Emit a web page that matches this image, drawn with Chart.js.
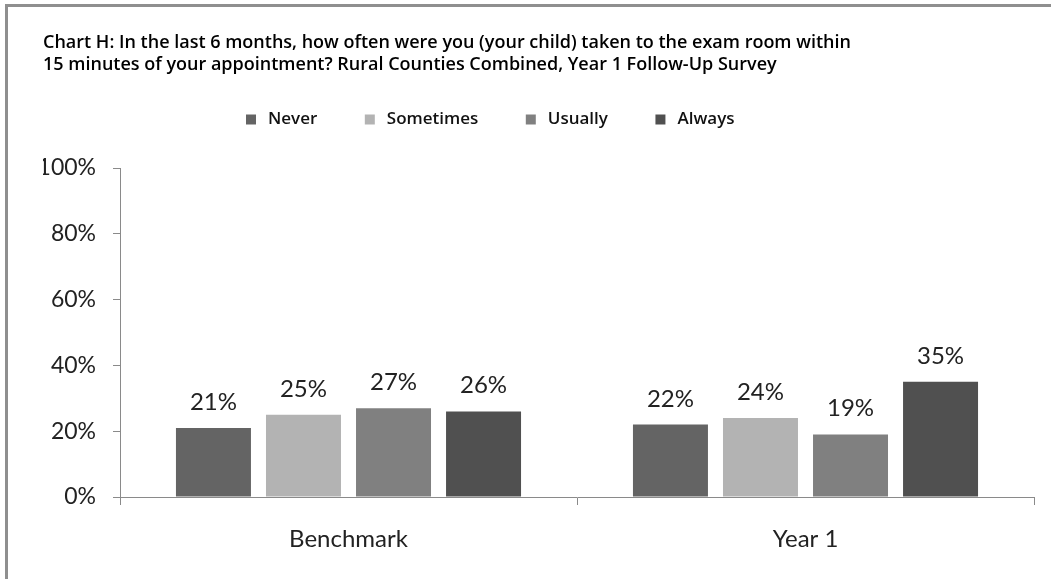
<!DOCTYPE html>
<html>
<head>
<meta charset="utf-8">
<script src="https://cdn.jsdelivr.net/npm/chart.js@4.4.1/dist/chart.umd.min.js"></script>
<style>
  html, body { margin: 0; padding: 0; background: #fff; }
  #wrap { position: relative; width: 1051px; height: 579px; overflow: hidden; }
  #frame {
    position: absolute; left: 5px; top: 4px; right: -10px; bottom: -10px;
    border-left: 3px solid #8f8f8f; border-top: 3px solid #8f8f8f;
  }
  #chart { position: absolute; left: 0; top: 0; }
</style>
</head>
<body>
<div id="wrap">
  <div id="frame"></div>
  <canvas id="chart" width="1051" height="579"></canvas>
</div>
<script>
(function () {
    const groups = ['Benchmark', 'Year 1'];
    const answers = ['Never', 'Sometimes', 'Usually', 'Always'];
    const never = [21, 22];
    const sometimes = [25, 24];
    const usually = [27, 19];
    const always = [26, 35];
    const yTicks = [0, 20, 40, 60, 80, 100];

    const colors = ['#646464', '#b3b3b3', '#808080', '#505050'];
    const series = [never, sometimes, usually, always];

    const FONT = 'Lato, "Open Sans", sans-serif';
    const HEAD = '"Open Sans", Lato, sans-serif';
    const AXIS = '#8a8a8a';

    // percent labels above each bar
    const valueLabels = {
        id: 'valueLabels',
        afterDatasetsDraw(chart) {
            const ctx = chart.ctx;
            ctx.save();
            ctx.font = '24px ' + FONT;
            ctx.fillStyle = '#222';
            ctx.textAlign = 'center';
            ctx.textBaseline = 'alphabetic';
            chart.data.datasets.forEach((ds, i) => {
                chart.getDatasetMeta(i).data.forEach((bar, j) => {
                    ctx.fillText(ds.data[j] + '%', bar.x, bar.y - 18);
                });
            });
            ctx.restore();
        }
    };

    // nudge the legend row up and to the left
    const legendShift = {
        id: 'legendShift',
        afterLayout(chart) {
            const lg = chart.legend;
            lg.left -= 50;
            lg.right -= 50;
            lg.top -= 30;
            lg.bottom -= 30;
        }
    };

    new Chart(document.getElementById('chart'), {
        type: 'bar',
        data: {
            labels: groups,
            datasets: answers.map((name, i) => ({
                label: name,
                data: series[i],
                backgroundColor: colors[i],
                categoryPercentage: 0.788,
                barPercentage: 0.833
            }))
        },
        options: {
            responsive: false,
            animation: false,
            layout: { padding: { left: 43, right: 17, top: 20, bottom: 0 } },
            plugins: {
                title: {
                    display: true,
                    align: 'start',
                    text: [
                        'Chart H: In the last 6 months, how often were you (your child) taken to the exam room within',
                        '15 minutes of your appointment? Rural Counties Combined, Year 1 Follow-Up Survey'
                    ],
                    color: '#000',
                    font: { family: HEAD, size: 18, weight: '600', lineHeight: 22 / 18 },
                    padding: { top: 12, bottom: 21 }
                },
                legend: {
                    position: 'top',
                    labels: {
                        usePointStyle: true,
                        pointStyle: 'rect',
                        boxWidth: 19,
                        boxHeight: 10,
                        padding: 44,
                        color: '#111',
                        font: { family: HEAD, size: 17, weight: '600' }
                    }
                },
                tooltip: { enabled: false }
            },
            scales: {
                x: {
                    grid: {
                        display: true,
                        drawOnChartArea: false,
                        offset: true,
                        tickLength: 8,
                        color: AXIS
                    },
                    border: { color: AXIS, width: 1 },
                    ticks: {
                        color: '#222',
                        padding: 20,
                        font: { family: FONT, size: 24 }
                    },
                    afterFit(scale) { scale.height = 82; }
                },
                y: {
                    min: 0,
                    max: 100,
                    afterBuildTicks(scale) {
                        scale.ticks = yTicks.map(v => ({ value: v }));
                    },
                    grid: {
                        drawOnChartArea: false,
                        tickLength: 7,
                        color: AXIS
                    },
                    border: { color: AXIS, width: 1 },
                    ticks: {
                        color: '#222',
                        padding: 17,
                        font: { family: FONT, size: 23 },
                        callback: v => v + '%'
                    },
                    afterFit(scale) { scale.width = 77; }
                }
            }
        },
        plugins: [valueLabels, legendShift]
    });
})();
</script>
</body>
</html>
